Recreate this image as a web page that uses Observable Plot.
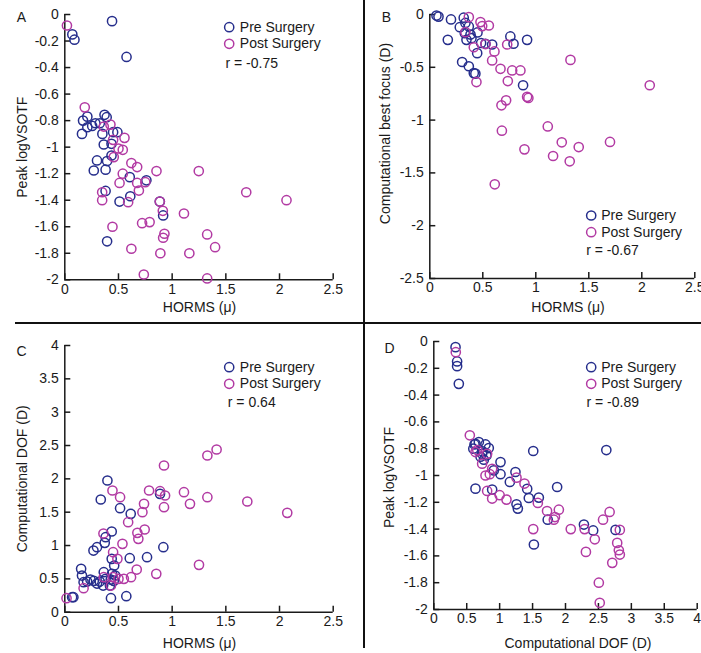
<!DOCTYPE html>
<html><head><meta charset="utf-8">
<script src="https://cdn.jsdelivr.net/npm/d3@7"></script>
<script src="https://cdn.jsdelivr.net/npm/@observablehq/plot@0.6"></script>
<style>
body{margin:0;background:#fff;}
#wrap{position:relative;width:701px;height:653px;background:#fff;overflow:hidden;font-family:"Liberation Sans",Arial,sans-serif;}
.panel{position:absolute;}
.hline{position:absolute;left:15px;top:322px;width:686px;height:1.5px;background:#111;}
.vline{position:absolute;left:363px;top:0;width:1.5px;height:648px;background:#111;}
</style></head><body><div id="wrap"></div>
<script>
// ---- data ----
const seriesNames = ["Pre Surgery", "Post Surgery"];
const panelLetters = ["A", "B", "C", "D"];
const rLabels = ["r = -0.75", "r = -0.67", "r = 0.64", "r = -0.89"];
const xTitles = ["HORMS (\u03bc)", "HORMS (\u03bc)", "HORMS (\u03bc)", "Computational DOF (D)"];
const yTitles = ["Peak logVSOTF", "Computational best focus (D)", "Computational DOF (D)", "Peak logVSOTF"];

const hormsTicks = [0, 0.5, 1, 1.5, 2, 2.5];
const dofTicksX = [0, 0.5, 1, 1.5, 2, 2.5, 3, 3.5, 4];
const vsotfTicks = [0, -0.2, -0.4, -0.6, -0.8, -1, -1.2, -1.4, -1.6, -1.8, -2];
const focusTicks = [0, -0.5, -1, -1.5, -2, -2.5];
const dofTicksY = [0, 0.5, 1, 1.5, 2, 2.5, 3, 3.5, 4];

// Panel A: HORMS vs Peak logVSOTF
const aPre = [[0.44,-0.05],[0.07,-0.15],[0.09,-0.19],[0.575,-0.32],[0.17,-0.80],[0.16,-0.90],[0.21,-0.77],[0.21,-0.85],[0.255,-0.84],[0.285,-0.82],[0.326,-0.82],[0.37,-0.756],[0.39,-0.774],[0.35,-0.90],[0.363,-0.98],[0.45,-0.887],[0.49,-0.887],[0.435,-0.975],[0.435,-1.063],[0.30,-1.10],[0.394,-1.105],[0.27,-1.176],[0.38,-1.17],[0.605,-1.226],[0.76,-1.25],[0.38,-1.33],[0.51,-1.41],[0.61,-1.37],[0.885,-1.41],[0.916,-1.515],[0.394,-1.71]];
const aPost = [[0.02,-0.083],[0.186,-0.70],[0.363,-0.845],[0.425,-0.83],[0.556,-0.93],[0.45,-0.945],[0.50,-1.01],[0.54,-1.02],[0.456,-1.075],[0.62,-1.12],[0.674,-1.15],[0.54,-1.20],[0.51,-1.27],[0.674,-1.27],[0.69,-1.327],[0.75,-1.264],[0.854,-1.18],[1.248,-1.18],[1.69,-1.34],[2.065,-1.40],[0.348,-1.34],[0.348,-1.40],[0.59,-1.415],[0.885,-1.41],[0.913,-1.48],[1.11,-1.50],[0.72,-1.573],[0.79,-1.565],[0.444,-1.60],[0.928,-1.653],[0.916,-1.683],[1.326,-1.658],[1.40,-1.754],[0.62,-1.766],[0.89,-1.80],[1.16,-1.80],[0.736,-1.96],[1.326,-1.99]];

// Panel B: HORMS vs computational best focus
const bPre = [[0.063,-0.01],[0.082,-0.02],[0.20,-0.047],[0.32,-0.03],[0.283,-0.12],[0.336,-0.08],[0.368,-0.113],[0.33,-0.177],[0.384,-0.19],[0.45,-0.17],[0.346,-0.24],[0.393,-0.224],[0.17,-0.24],[0.484,-0.27],[0.525,-0.277],[0.588,-0.284],[0.447,-0.366],[0.305,-0.45],[0.368,-0.49],[0.415,-0.555],[0.43,-0.56],[0.76,-0.208],[0.79,-0.277],[0.918,-0.24],[0.88,-0.67]];
const bPost = [[0.368,-0.025],[0.478,-0.072],[0.494,-0.11],[0.557,-0.104],[0.336,-0.167],[0.415,-0.31],[0.525,-0.28],[0.61,-0.35],[0.588,-0.435],[0.44,-0.64],[0.73,-0.284],[0.667,-0.514],[0.777,-0.53],[0.855,-0.53],[0.736,-0.63],[0.72,-0.813],[0.676,-0.86],[0.918,-0.78],[0.93,-0.79],[1.327,-0.43],[2.075,-0.67],[0.68,-1.10],[1.113,-1.06],[1.245,-1.21],[1.405,-1.255],[1.163,-1.34],[1.32,-1.39],[1.70,-1.207],[0.893,-1.277],[0.613,-1.608]];

// Panel C: HORMS vs computational DOF
const cPre = [[0.397,1.975],[0.335,1.69],[0.515,1.56],[0.614,1.475],[0.887,1.775],[0.437,1.21],[0.38,1.125],[0.372,1.04],[0.267,0.925],[0.30,0.975],[0.918,0.975],[0.437,0.80],[0.46,0.70],[0.605,0.81],[0.766,0.825],[0.152,0.65],[0.16,0.55],[0.175,0.45],[0.208,0.46],[0.239,0.49],[0.27,0.47],[0.30,0.43],[0.326,0.46],[0.357,0.40],[0.363,0.60],[0.38,0.50],[0.42,0.40],[0.428,0.49],[0.44,0.575],[0.456,0.47],[0.47,0.55],[0.43,0.21],[0.573,0.24],[0.068,0.225],[0.08,0.225]];
const cPost = [[0.016,0.21],[0.175,0.36],[0.444,1.825],[0.515,1.725],[0.785,1.825],[0.887,1.815],[0.924,2.20],[0.934,1.75],[0.924,1.575],[0.738,1.625],[0.723,1.50],[1.11,1.80],[1.166,1.625],[1.328,1.725],[1.328,2.35],[1.414,2.44],[1.70,1.66],[2.072,1.49],[0.59,1.35],[0.36,1.18],[0.676,1.19],[0.744,1.24],[0.685,1.10],[0.537,1.025],[0.45,0.90],[0.49,0.80],[0.67,0.64],[0.852,0.575],[1.25,0.71],[0.363,0.525],[0.45,0.525],[0.50,0.50],[0.55,0.50],[0.617,0.525],[0.43,0.40]];

// Panel D: computational DOF vs Peak logVSOTF
const dPre = [[0.33,-0.042],[0.354,-0.149],[0.354,-0.184],[0.38,-0.316],[0.60,-0.80],[0.618,-0.768],[0.633,-0.763],[0.684,-0.75],[0.785,-0.768],[0.835,-0.795],[0.734,-0.838],[0.71,-0.86],[0.76,-0.882],[0.74,-0.82],[0.80,-0.85],[1.013,-0.90],[0.911,-0.962],[1.013,-0.99],[1.24,-0.974],[1.155,-1.048],[1.418,-1.10],[1.873,-1.086],[0.633,-1.098],[0.886,-1.105],[1.443,-1.168],[1.595,-1.165],[1.256,-1.215],[1.276,-1.247],[1.73,-1.33],[1.51,-0.817],[2.62,-0.81],[1.52,-1.515],[2.28,-1.366],[2.42,-1.41],[2.76,-1.406]];
const dPost = [[0.334,-0.08],[0.547,-0.70],[0.633,-0.825],[0.81,-0.838],[0.734,-0.912],[0.886,-0.95],[0.785,-1.0],[0.85,-0.99],[1.256,-1.016],[1.377,-1.06],[0.81,-1.115],[0.886,-1.172],[1.0,-1.147],[1.104,-1.18],[1.58,-1.205],[1.72,-1.265],[1.899,-1.255],[1.823,-1.33],[1.84,-1.31],[1.51,-1.40],[2.08,-1.40],[2.29,-1.40],[2.31,-1.57],[2.445,-1.476],[2.57,-1.33],[2.67,-1.272],[2.825,-1.406],[2.785,-1.503],[2.81,-1.558],[2.825,-1.59],[2.71,-1.652],[2.506,-1.80],[2.52,-1.95],[0.66,-0.81]];

// ---- styles ----
const INK = "#1a1a1a";
const PRE = "#262e8c";
const POST = "#b23aa3";
const FONT = "'Liberation Sans', Arial, Helvetica, sans-serif";

function panel(cfg) {
  const fw = cfg.width - cfg.ml - cfg.mr;
  const fh = cfg.height - cfg.mt - cfg.mb;
  const fmt = d => String(d);
  const L = cfg.legend;
  const marks = [
    Plot.ruleX([cfg.xDomain[0]], {stroke: INK, strokeWidth: 1.5}),
    Plot.ruleY([cfg.yDomain[0]], {stroke: INK, strokeWidth: 1.5}),
    Plot.tickY(cfg.yTicks, {y: d => d, insetRight: fw - 6, stroke: INK, strokeWidth: 1.5}),
    Plot.tickX(cfg.xTicks, {x: d => d, insetTop: fh - 6, stroke: INK, strokeWidth: 1.5}),
    Plot.axisX({ticks: cfg.xTicks, tickSize: 0, tickPadding: 4, tickFormat: fmt, label: null, fontSize: 14}),
    Plot.axisY({ticks: cfg.yTicks, tickSize: 0, tickPadding: 6, tickFormat: fmt, label: null, fontSize: 14}),
    Plot.dot(cfg.pre, {x: d => d[0], y: d => d[1], r: 4.6, stroke: PRE, strokeWidth: 1.5, fill: "none"}),
    Plot.dot(cfg.post, {x: d => d[0], y: d => d[1], r: 4.6, stroke: POST, strokeWidth: 1.5, fill: "none"}),
    // legend
    Plot.dot([seriesNames[0]], {frameAnchor: "top-left", dx: L.cx, dy: L.y1, r: 4.6, stroke: PRE, strokeWidth: 1.5, fill: "none"}),
    Plot.dot([seriesNames[1]], {frameAnchor: "top-left", dx: L.cx, dy: L.y2, r: 4.6, stroke: POST, strokeWidth: 1.5, fill: "none"}),
    Plot.text([seriesNames[0]], {text: d => d, frameAnchor: "top-left", dx: L.tx, dy: L.y1, textAnchor: "start", lineAnchor: "middle", fontSize: 14, fill: INK}),
    Plot.text([seriesNames[1]], {text: d => d, frameAnchor: "top-left", dx: L.tx, dy: L.y2, textAnchor: "start", lineAnchor: "middle", fontSize: 14, fill: INK}),
    Plot.text([cfg.r], {text: d => d, frameAnchor: "top-left", dx: L.rx, dy: L.ry, textAnchor: "start", lineAnchor: "middle", fontSize: 14, fill: INK}),
    // panel letter
    Plot.text([cfg.letter], {text: d => d, frameAnchor: "top-left", dx: cfg.letterDx, dy: cfg.letterDy, textAnchor: "middle", lineAnchor: "middle", fontSize: 14, fill: INK}),
    // axis titles
    Plot.text([cfg.yTitle], {text: d => d, frameAnchor: "left", rotate: -90, dx: cfg.yTitleDx, dy: cfg.yTitleDy, textAnchor: "middle", lineAnchor: "middle", fontSize: 14, fill: INK}),
    Plot.text([cfg.xTitle], {text: d => d, frameAnchor: "bottom", dx: cfg.xTitleDx, dy: cfg.xTitleDy, textAnchor: "middle", lineAnchor: "middle", fontSize: 14, fill: INK})
  ];
  const svg = Plot.plot({
    width: cfg.width, height: cfg.height,
    marginLeft: cfg.ml, marginRight: cfg.mr, marginTop: cfg.mt, marginBottom: cfg.mb,
    x: {domain: cfg.xDomain},
    y: {domain: cfg.yDomain},
    style: {fontFamily: FONT, fontSize: "14px", color: INK, background: "transparent", overflow: "hidden"},
    marks
  });
  svg.classList.add("panel");
  svg.style.left = cfg.left + "px";
  svg.style.top = cfg.top + "px";
  svg.style.position = "absolute";
  svg.style.maxWidth = "none";
  return svg;
}

const wrap = document.getElementById("wrap");
wrap.appendChild(panel({
  left: 0, top: 0, width: 364, height: 323, ml: 64.3, mr: 31.3, mt: 14, mb: 43.7,
  xDomain: [0, 2.5], yDomain: [-2, 0], xTicks: hormsTicks, yTicks: vsotfTicks,
  pre: aPre, post: aPost, r: rLabels[0], letter: panelLetters[0],
  legend: {cx: 164.4, y1: 12.7, y2: 29.3, tx: 175, rx: 160.7, ry: 49},
  letterDx: -43.3, letterDy: 3,
  yTitle: yTitles[0], yTitleDx: -42.6, yTitleDy: 0,
  xTitle: xTitles[0], xTitleDx: 0.5, xTitleDy: 27.7
}));
wrap.appendChild(panel({
  left: 364, top: 0, width: 337, height: 323, ml: 65.3, mr: 6.7, mt: 14, mb: 45,
  xDomain: [0, 2.5], yDomain: [-2.5, 0], xTicks: hormsTicks, yTicks: focusTicks,
  pre: bPre, post: bPost, r: rLabels[1], letter: panelLetters[1],
  legend: {cx: 161.4, y1: 201, y2: 217.7, tx: 171.4, rx: 156.4, ry: 236},
  letterDx: -43.3, letterDy: 3,
  yTitle: yTitles[1], yTitleDx: -44.3, yTitleDy: -13,
  xTitle: xTitles[1], xTitleDx: 5.7, xTitleDy: 29
}));
wrap.appendChild(panel({
  left: 0, top: 323, width: 364, height: 330, ml: 64.3, mr: 31.3, mt: 22, mb: 41.3,
  xDomain: [0, 2.5], yDomain: [0, 4], xTicks: hormsTicks, yTicks: dofTicksY,
  pre: cPre, post: cPost, r: rLabels[2], letter: panelLetters[2],
  legend: {cx: 164.4, y1: 21.7, y2: 38.3, tx: 175, rx: 163, ry: 57.3},
  letterDx: -43.3, letterDy: 6,
  yTitle: yTitles[2], yTitleDx: -42.6, yTitleDy: 0,
  xTitle: xTitles[2], xTitleDx: 0.5, xTitleDy: 31.3
}));
wrap.appendChild(panel({
  left: 364, top: 323, width: 337, height: 330, ml: 69.3, mr: 4.3, mt: 18, mb: 44,
  xDomain: [0, 4], yDomain: [-2, 0], xTicks: dofTicksX, yTicks: vsotfTicks,
  pre: dPre, post: dPost, r: rLabels[3], letter: panelLetters[3],
  legend: {cx: 157.4, y1: 25.7, y2: 42.3, tx: 167.4, rx: 152.7, ry: 60.7},
  letterDx: -44.3, letterDy: 7,
  yTitle: yTitles[3], yTitleDx: -44.3, yTitleDy: 2,
  xTitle: xTitles[3], xTitleDx: 12.5, xTitleDy: 34
}));
const h = document.createElement("div"); h.className = "hline"; wrap.appendChild(h);
const v = document.createElement("div"); v.className = "vline"; wrap.appendChild(v);
</script></body></html>
